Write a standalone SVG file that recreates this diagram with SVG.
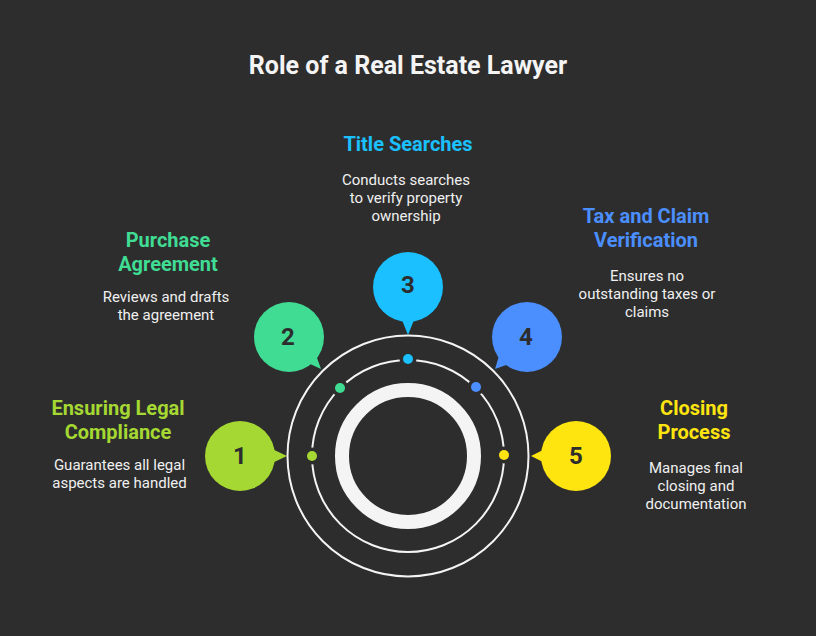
<svg xmlns="http://www.w3.org/2000/svg" width="816" height="636" viewBox="0 0 816 636">
<style>
text{font-family:Roboto,"Liberation Sans",sans-serif;text-anchor:middle}
.t{font-size:25px;font-weight:700;fill:#f4f4f4}
.h{font-size:20px;font-weight:700}
.b{font-size:15px;font-weight:400;fill:#f0f0f0}
.n{font-size:24px;font-weight:700;fill:#2d2d2d}
.ring{fill:none;stroke:#f4f4f4;stroke-width:2}
.halo{fill:#2d2d2d}
</style>
<rect width="816" height="636" fill="#2d2d2d"/>
<text class="t" x="408" y="74">Role of a Real Estate Lawyer</text>
<g id="rings">
<circle class="ring" cx="408" cy="456" r="120.5"/>
<circle class="ring" cx="408" cy="456" r="96"/>
<circle cx="408" cy="456" r="66" fill="none" stroke="#f4f4f4" stroke-width="14"/>
</g>
<g id="connectors"></g>
<g id="node-1">
<circle class="halo" cx="312" cy="456" r="8.5"/><circle cx="312" cy="456" r="5" fill="#a5d832"/>
<path d="M270 448 L287 456 L270 464 Z" fill="#a5d832"/><circle cx="240" cy="456" r="35" fill="#a5d832"/>
<text class="n" x="240" y="464">1</text>
<text class="h" x="118" y="415" fill="#a5d832">Ensuring Legal</text><text class="h" x="118" y="439" fill="#a5d832">Compliance</text>
<text class="b" x="119.5" y="470">Guarantees all legal</text><text class="b" x="119.5" y="488">aspects are handled</text>
</g>
<g id="node-2">
<circle class="halo" cx="340" cy="388" r="8.5"/><circle cx="340" cy="388" r="5" fill="#40dc94"/>
<path d="M308 363 L321 369 L316 355 Z" fill="#40dc94"/><circle cx="289" cy="337" r="35" fill="#40dc94"/>
<text class="n" x="288" y="345">2</text>
<text class="h" x="168" y="247" fill="#40dc94">Purchase</text><text class="h" x="168" y="271" fill="#40dc94">Agreement</text>
<text class="b" x="166" y="302">Reviews and drafts</text><text class="b" x="166" y="320">the agreement</text>
</g>
<g id="node-3">
<circle class="halo" cx="408" cy="359" r="8.5"/><circle cx="408" cy="359" r="5" fill="#1ac0ff"/>
<path d="M402 320 L408 335 L414 320 Z" fill="#1ac0ff"/><circle cx="408" cy="287" r="35" fill="#1ac0ff"/>
<text class="n" x="408" y="293">3</text>
<text class="h" x="408" y="151" fill="#1ac0ff">Title Searches</text>
<text class="b" x="406" y="185">Conducts searches</text><text class="b" x="406" y="203">to verify property</text><text class="b" x="406" y="221">ownership</text>
</g>
<g id="node-4">
<circle class="halo" cx="476" cy="387" r="8.5"/><circle cx="476" cy="387" r="5" fill="#4b8fff"/>
<path d="M499 356 L495 369 L509 364 Z" fill="#4b8fff"/><circle cx="527" cy="337" r="35" fill="#4b8fff"/>
<text class="n" x="526" y="345">4</text>
<text class="h" x="646" y="223" fill="#4b8fff">Tax and Claim</text><text class="h" x="646" y="247" fill="#4b8fff">Verification</text>
<text class="b" x="647" y="281">Ensures no</text><text class="b" x="647" y="299">outstanding taxes or</text><text class="b" x="647" y="317">claims</text>
</g>
<g id="node-5">
<circle class="halo" cx="504" cy="455" r="8.5"/><circle cx="504" cy="455" r="5" fill="#ffe50f"/>
<path d="M545 449 L531 456 L545 463 Z" fill="#ffe50f"/><circle cx="576" cy="456" r="35" fill="#ffe50f"/>
<text class="n" x="576" y="464">5</text>
<text class="h" x="694" y="415" fill="#ffe50f">Closing</text><text class="h" x="694" y="439" fill="#ffe50f">Process</text>
<text class="b" x="696" y="473">Manages final</text><text class="b" x="696" y="491">closing and</text><text class="b" x="696" y="509">documentation</text>
</g>
</svg>
